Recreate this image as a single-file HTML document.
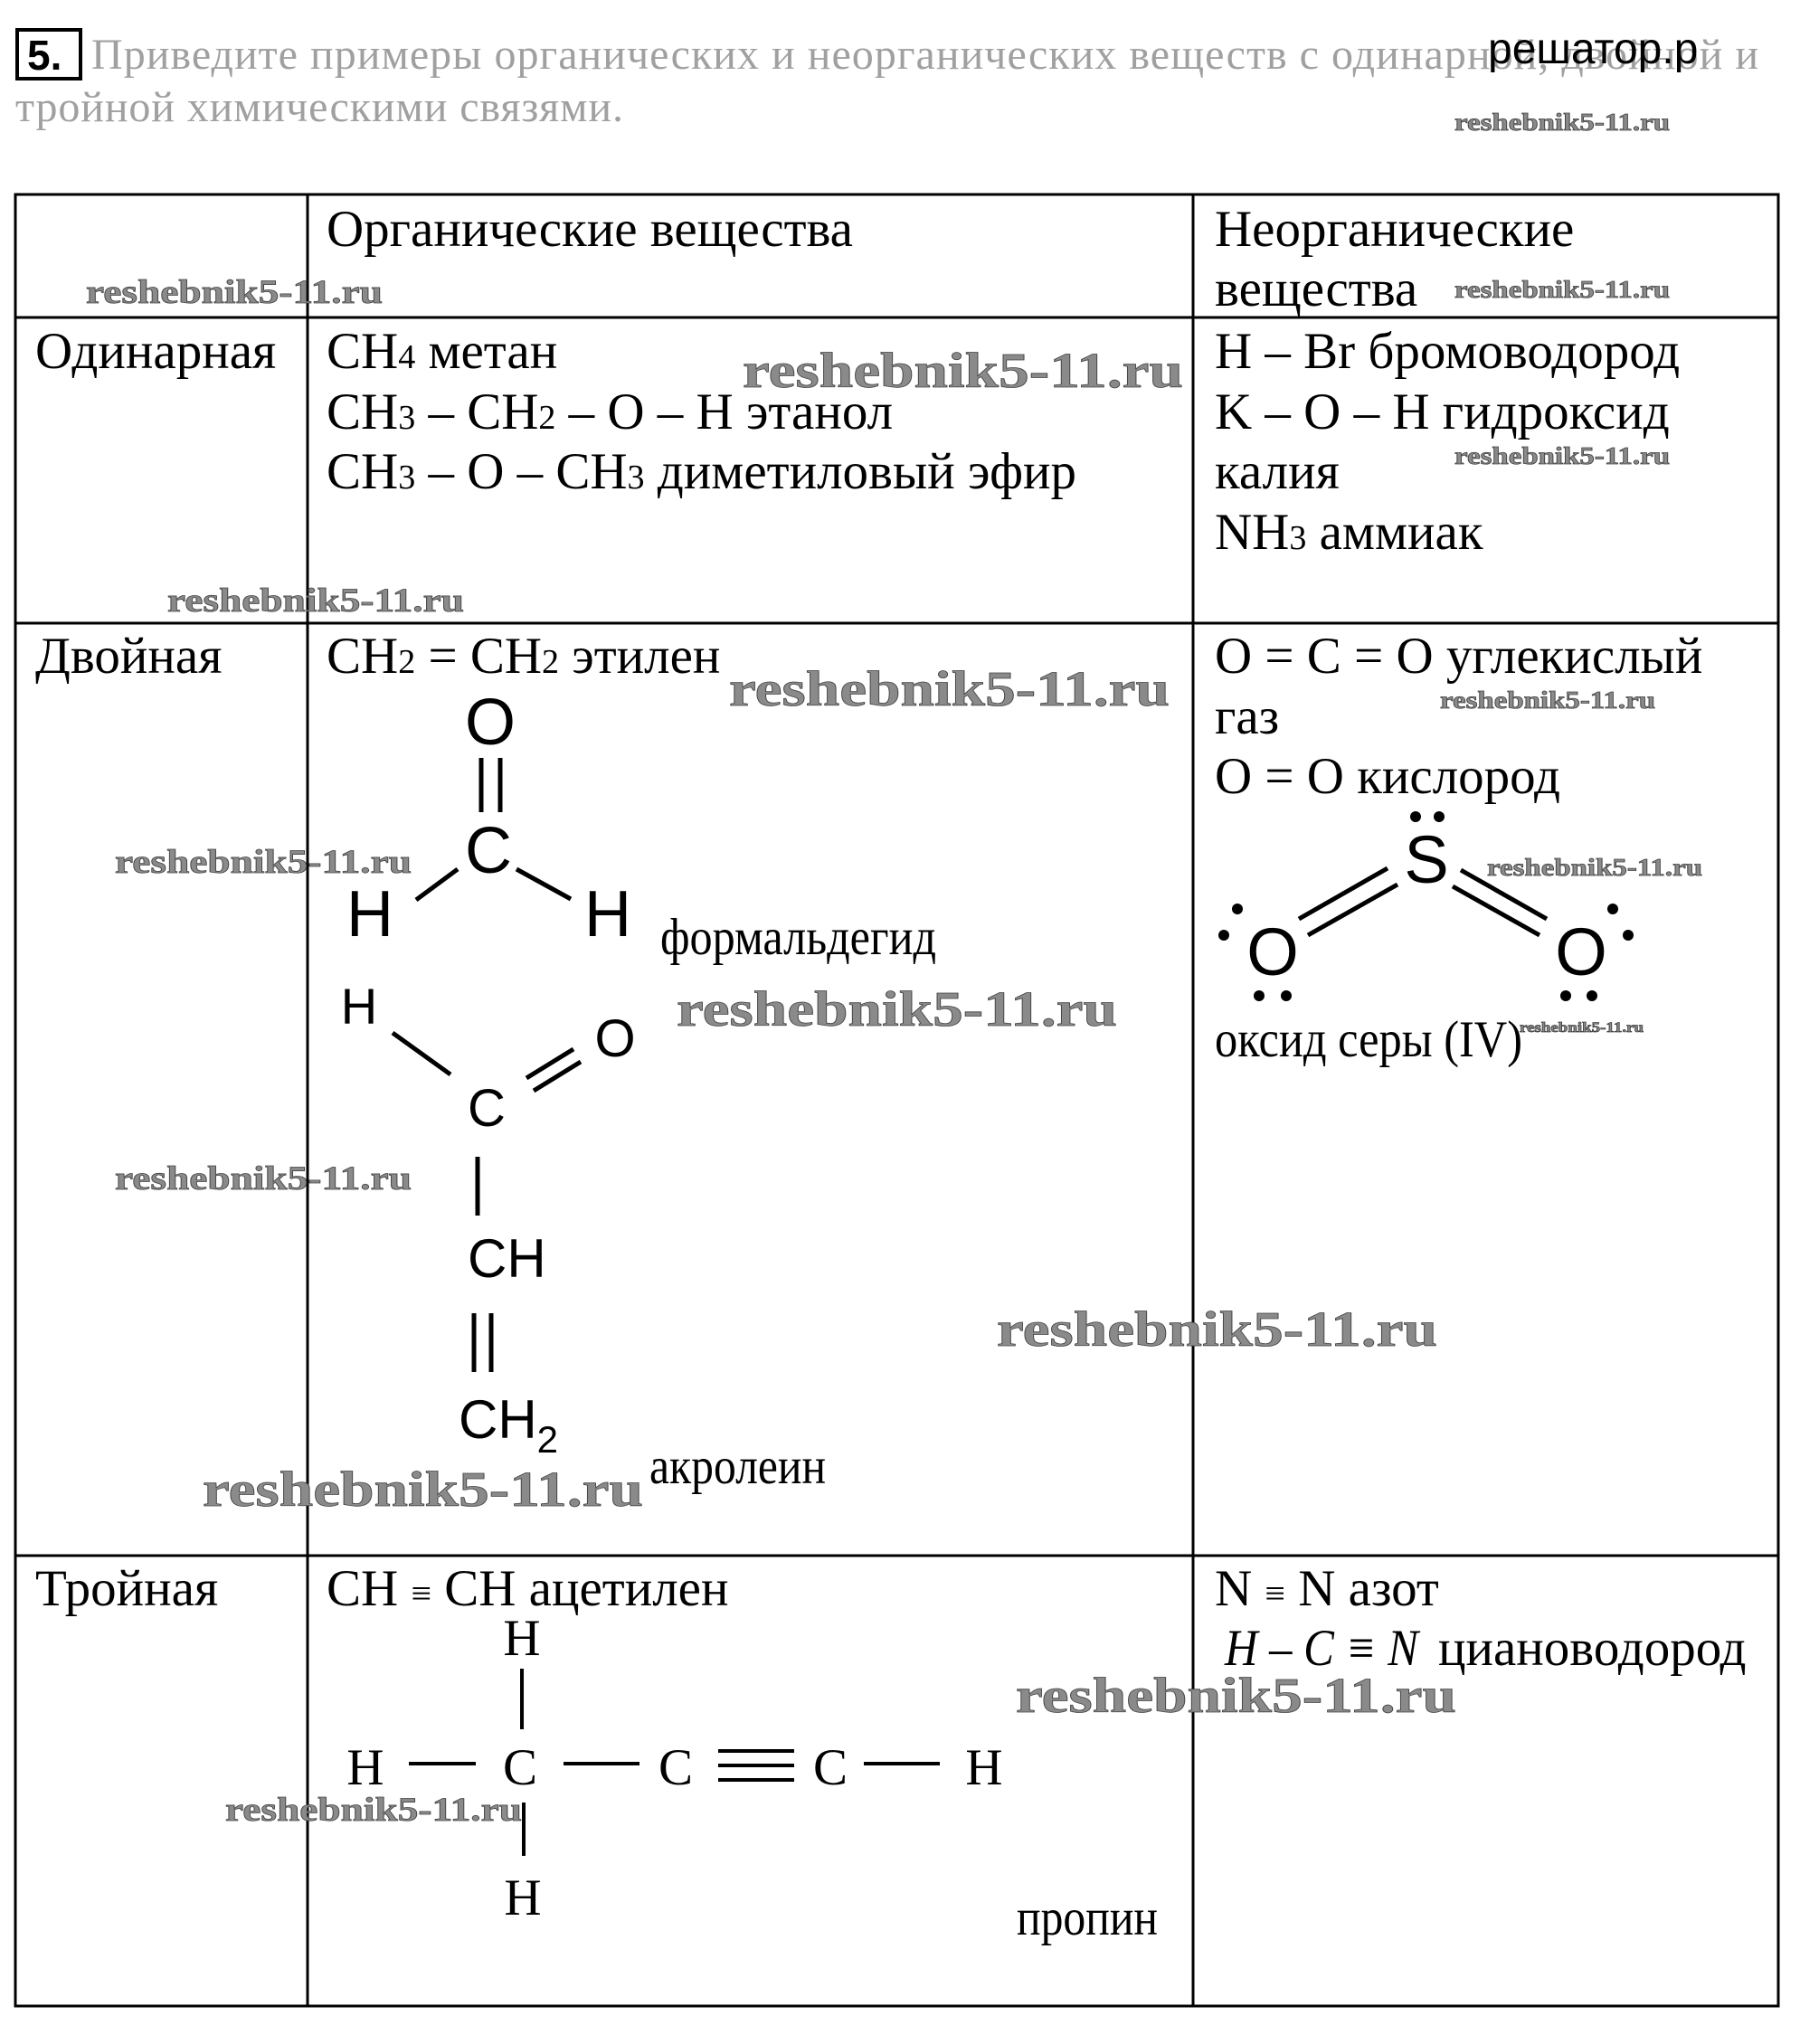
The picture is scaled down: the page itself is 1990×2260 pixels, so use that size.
<!DOCTYPE html>
<html><head><meta charset="utf-8"><style>
html,body{margin:0;padding:0;background:#fff;}
svg{display:block;}
.t{font-family:"Liberation Serif",serif;font-size:57px;fill:#000;}
.s{font-family:"Liberation Sans",sans-serif;fill:#000;}
.w{font-family:"Liberation Serif",serif;font-weight:bold;fill:#8a8a8a;stroke:#444;stroke-width:0.8px;}
.g{font-family:"Liberation Serif",serif;font-size:48px;fill:#a0a0a0;}
</style></head><body>
<svg width="1990" height="2260" viewBox="0 0 1990 2260" xmlns="http://www.w3.org/2000/svg">
<rect x="19" y="33" width="70" height="54" fill="none" stroke="#000" stroke-width="4"/>
<text x="30" y="77" style="font-family:'Liberation Sans',sans-serif;font-weight:bold;font-size:46px">5.</text>
<text class="g" x="101" y="76" textLength="1843">Приведите примеры органических и неорганических веществ с одинарной, двойной и</text>
<text class="g" x="17" y="134" textLength="672">тройной химическими связями.</text>
<text x="1645" y="70" style="font-family:'Liberation Sans',sans-serif;font-size:48px">решатор.р</text>

<g stroke="#000" stroke-width="3" fill="none">
<rect x="17" y="215" width="1949" height="2003"/>
<line x1="17" y1="351" x2="1966" y2="351"/>
<line x1="17" y1="689" x2="1966" y2="689"/>
<line x1="17" y1="1720" x2="1966" y2="1720"/>
<line x1="340" y1="215" x2="340" y2="2218"/>
<line x1="1319" y1="215" x2="1319" y2="2218"/>
</g>

<text class="t" x="361" y="272">Органические вещества</text>
<text class="t" x="1343" y="272">Неорганические</text>
<text class="t" x="1343" y="338">вещества</text>

<text class="t" x="39" y="407">Одинарная</text>
<text class="t" x="361" y="407">CH<tspan font-size="38">4</tspan> метан</text>
<text class="t" x="361" y="474">CH<tspan font-size="38">3</tspan> – CH<tspan font-size="38">2</tspan> – O – H этанол</text>
<text class="t" x="361" y="540">CH<tspan font-size="38">3</tspan> – O – CH<tspan font-size="38">3</tspan> диметиловый эфир</text>
<text class="t" x="1343" y="407">H – Br бромоводород</text>
<text class="t" x="1343" y="474">K – O – H гидроксид</text>
<text class="t" x="1343" y="540">калия</text>
<text class="t" x="1343" y="607">NH<tspan font-size="38">3</tspan> аммиак</text>

<text class="t" x="39" y="744">Двойная</text>
<text class="t" x="361" y="744">CH<tspan font-size="38">2</tspan> = CH<tspan font-size="38">2</tspan> этилен</text>
<text class="t" x="1343" y="744">O = C = O углекислый</text>
<text class="t" x="1343" y="811">газ</text>
<text class="t" x="1343" y="877">O = O кислород</text>

<text class="s" x="542" y="823" font-size="72" text-anchor="middle">O</text>
<g stroke="#000" stroke-width="5">
<line x1="532" y1="838" x2="532" y2="898"/><line x1="553" y1="838" x2="553" y2="898"/>
<line x1="506" y1="961" x2="460" y2="995"/>
<line x1="571" y1="961" x2="631" y2="994"/>
</g>
<text class="s" x="540" y="965" font-size="72" text-anchor="middle">C</text>
<text class="s" x="409" y="1035" font-size="72" text-anchor="middle">H</text>
<text class="s" x="672" y="1035" font-size="72" text-anchor="middle">H</text>
<text class="t" x="730" y="1055" font-size="42" textLength="305" lengthAdjust="spacingAndGlyphs">формальдегид</text>

<text class="s" x="397" y="1132" font-size="56" text-anchor="middle">H</text>
<text class="s" x="538" y="1245" font-size="58" text-anchor="middle">C</text>
<text class="s" x="680" y="1168" font-size="58" text-anchor="middle">O</text>
<g stroke="#000" stroke-width="5">
<line x1="434" y1="1142" x2="498" y2="1188"/>
<line x1="582" y1="1192" x2="634" y2="1160"/>
<line x1="590" y1="1206" x2="642" y2="1174"/>
<line x1="528" y1="1279" x2="528" y2="1344"/>
<line x1="524" y1="1452" x2="524" y2="1517"/>
<line x1="543" y1="1452" x2="543" y2="1517"/>
</g>
<text class="s" x="517" y="1412" font-size="60">CH</text>
<text class="s" x="507" y="1590" font-size="60">CH<tspan font-size="42" dy="16">2</tspan></text>
<text class="t" x="718" y="1640" font-size="42" textLength="195" lengthAdjust="spacingAndGlyphs">акролеин</text>

<text class="s" x="1577" y="976" font-size="74" text-anchor="middle">S</text>
<g fill="#000">
<circle cx="1565" cy="903" r="6"/><circle cx="1591" cy="903" r="6"/>
<circle cx="1368" cy="1005" r="6"/><circle cx="1353" cy="1034" r="6"/>
<circle cx="1392" cy="1101" r="6"/><circle cx="1422" cy="1101" r="6"/>
<circle cx="1783" cy="1005" r="6"/><circle cx="1800" cy="1034" r="6"/>
<circle cx="1731" cy="1101" r="6"/><circle cx="1760" cy="1101" r="6"/>
</g>
<g stroke="#000" stroke-width="5">
<line x1="1436" y1="1016" x2="1534" y2="960"/>
<line x1="1446" y1="1034" x2="1545" y2="978"/>
<line x1="1615" y1="962" x2="1710" y2="1016"/>
<line x1="1606" y1="980" x2="1702" y2="1034"/>
</g>
<text class="s" x="1407" y="1078" font-size="74" text-anchor="middle">O</text>
<text class="s" x="1748" y="1078" font-size="74" text-anchor="middle">O</text>
<text class="t" x="1343" y="1168" font-size="46" textLength="340" lengthAdjust="spacingAndGlyphs">оксид серы (IV)</text>

<text class="t" x="39" y="1775">Тройная</text>
<text class="t" x="361" y="1775">CH <tspan font-size="40">≡</tspan> CH ацетилен</text>
<text class="t" x="1343" y="1775">N <tspan font-size="40">≡</tspan> N азот</text>
<text class="t" x="1354" y="1841" font-style="italic" textLength="214" lengthAdjust="spacingAndGlyphs">H – C ≡ N</text>
<text class="t" x="1590" y="1841">циановодород</text>

<g class="t" font-size="70">
<text x="577" y="1830" text-anchor="middle">H</text>
<text x="404" y="1973" text-anchor="middle">H</text>
<text x="575" y="1973" text-anchor="middle">C</text>
<text x="747" y="1973" text-anchor="middle">C</text>
<text x="918" y="1973" text-anchor="middle">C</text>
<text x="1088" y="1973" text-anchor="middle">H</text>
<text x="578" y="2117" text-anchor="middle">H</text>
</g>
<g stroke="#000" stroke-width="4">
<line x1="577" y1="1845" x2="577" y2="1912"/>
<line x1="579" y1="1993" x2="579" y2="2052"/>
<line x1="452" y1="1950" x2="526" y2="1950"/>
<line x1="623" y1="1950" x2="707" y2="1950"/>
<line x1="794" y1="1936" x2="878" y2="1936"/>
<line x1="794" y1="1952" x2="878" y2="1952"/>
<line x1="794" y1="1968" x2="878" y2="1968"/>
<line x1="955" y1="1950" x2="1039" y2="1950"/>
</g>
<text class="t" x="1124" y="2139" font-size="42" textLength="156" lengthAdjust="spacingAndGlyphs">пропин</text>

<g>
<text class="w" x="1608" y="144" font-size="27" textLength="238" lengthAdjust="spacingAndGlyphs">reshebnik5-11.ru</text>
<text class="w" x="95" y="335" font-size="37" textLength="328" lengthAdjust="spacingAndGlyphs">reshebnik5-11.ru</text>
<text class="w" x="1608" y="329" font-size="27" textLength="238" lengthAdjust="spacingAndGlyphs">reshebnik5-11.ru</text>
<text class="w" x="821" y="428" font-size="55" textLength="487" lengthAdjust="spacingAndGlyphs">reshebnik5-11.ru</text>
<text class="w" x="1608" y="513" font-size="27" textLength="238" lengthAdjust="spacingAndGlyphs">reshebnik5-11.ru</text>
<text class="w" x="185" y="676" font-size="37" textLength="328" lengthAdjust="spacingAndGlyphs">reshebnik5-11.ru</text>
<text class="w" x="806" y="780" font-size="55" textLength="487" lengthAdjust="spacingAndGlyphs">reshebnik5-11.ru</text>
<text class="w" x="1592" y="783" font-size="27" textLength="238" lengthAdjust="spacingAndGlyphs">reshebnik5-11.ru</text>
<text class="w" x="127" y="965" font-size="37" textLength="328" lengthAdjust="spacingAndGlyphs">reshebnik5-11.ru</text>
<text class="w" x="1644" y="968" font-size="27" textLength="238" lengthAdjust="spacingAndGlyphs">reshebnik5-11.ru</text>
<text class="w" x="748" y="1134" font-size="55" textLength="487" lengthAdjust="spacingAndGlyphs">reshebnik5-11.ru</text>
<text class="w" x="1680" y="1141" font-size="16" textLength="137" lengthAdjust="spacingAndGlyphs">reshebnik5-11.ru</text>
<text class="w" x="127" y="1315" font-size="37" textLength="328" lengthAdjust="spacingAndGlyphs">reshebnik5-11.ru</text>
<text class="w" x="1102" y="1488" font-size="55" textLength="487" lengthAdjust="spacingAndGlyphs">reshebnik5-11.ru</text>
<text class="w" x="224" y="1665" font-size="55" textLength="487" lengthAdjust="spacingAndGlyphs">reshebnik5-11.ru</text>
<text class="w" x="1123" y="1893" font-size="55" textLength="487" lengthAdjust="spacingAndGlyphs">reshebnik5-11.ru</text>
<text class="w" x="249" y="2013" font-size="37" textLength="328" lengthAdjust="spacingAndGlyphs">reshebnik5-11.ru</text>
</g>
</svg>
</body></html>
